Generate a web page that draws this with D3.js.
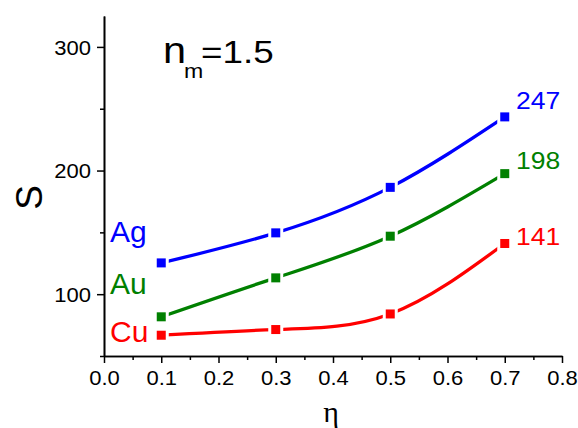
<!DOCTYPE html>
<html>
<head>
<meta charset="utf-8">
<script src="https://cdn.jsdelivr.net/npm/d3@7"></script>
<style>
  html, body { margin: 0; padding: 0; background: #fff; }
  svg { display: block; }
  text { font-family: "Liberation Sans", Arial, sans-serif; }
</style>
</head>
<body>
<svg id="chart" width="578" height="428"></svg>
<script>
// ---- data ----
const eta = [0.1, 0.3, 0.5, 0.7];
const seriesNames = ["Ag", "Au", "Cu"];
const agValues = [125.3, 149.6, 186.4, 243.4];
const auValues = [81.7, 113.2, 146.9, 197.5];
const cuValues = [66.8, 71.4, 84.0, 141.0];
const endLabels = ["247", "198", "141"];
const xTicks = [0.0, 0.1, 0.2, 0.3, 0.4, 0.5, 0.6, 0.7, 0.8];
const yTicks = [100, 200, 300];

const colors = ["#0000ff", "#008000", "#ff0000"];
const allValues = [agValues, auValues, cuValues];

const svg = d3.select("#chart");
const x = d3.scaleLinear().domain([0, 0.8]).range([104, 562]);
const y = d3.scaleLinear().domain([50, 325]).range([356, 16]);

function stretch(sel, k) {
  sel.each(function () {
    const L = this.getComputedTextLength();
    d3.select(this).attr("textLength", L * k).attr("lengthAdjust", "spacingAndGlyphs");
  });
}

// axes
const xAxis = d3.axisBottom(x).tickValues(xTicks).tickFormat(d3.format(".1f")).tickSize(7).tickSizeOuter(0);
const xMinor = d3.axisBottom(x).tickValues(d3.range(0.05, 0.8, 0.1)).tickFormat("").tickSize(4).tickSizeOuter(0);
const yAxis = d3.axisLeft(y).tickValues(yTicks).tickFormat(d3.format("d")).tickSize(7).tickSizeOuter(0);
const yMinor = d3.axisLeft(y).tickValues([50, 150, 250]).tickFormat("").tickSize(4).tickSizeOuter(0);

function styleAxis(g) {
  g.selectAll("path").attr("stroke", "#000").attr("stroke-width", 1.6);
  g.selectAll("line").attr("stroke", "#000").attr("stroke-width", 1.5);
  g.selectAll("text").attr("fill", "#000").style("font-size", "20px")
    .style("font-family", '"Liberation Sans", Arial, sans-serif');
}

const gx = svg.append("g").attr("transform", "translate(0,356)").call(xAxis).call(styleAxis);
gx.selectAll("text").attr("dy", null).attr("y", 29).call(stretch, 1.1);
svg.append("g").attr("transform", "translate(0,356)").call(xMinor).call(styleAxis);
const gy = svg.append("g").attr("transform", "translate(104,0)").call(yAxis).call(styleAxis);
gy.selectAll("text").attr("x", -13).attr("dy", "0.36em").call(stretch, 1.1);
svg.append("g").attr("transform", "translate(104,0)").call(yMinor).call(styleAxis);

// lines
const line = d3.line().x(d => x(d[0])).y(d => y(d[1])).curve(d3.curveNatural);
allValues.forEach((vals, i) => {
  const pts = eta.map((e, j) => [e, vals[j]]);
  svg.append("path").datum(pts).attr("d", line)
    .attr("fill", "none").attr("stroke", colors[i]).attr("stroke-width", 3.3)
    .attr("stroke-linecap", "round");
});
// markers with white halo (gap)
allValues.forEach((vals, i) => {
  const pts = eta.map((e, j) => [e, vals[j]]);
  svg.append("g").selectAll("rect.halo").data(pts).join("rect")
    .attr("x", d => x(d[0]) - 7.5).attr("y", d => y(d[1]) - 7.5)
    .attr("width", 15).attr("height", 15).attr("fill", "#fff");
  svg.append("g").selectAll("rect.m").data(pts).join("rect")
    .attr("x", d => x(d[0]) - 4.5).attr("y", d => y(d[1]) - 4.5)
    .attr("width", 9).attr("height", 9).attr("fill", colors[i]);
});

// series labels
const nameY = [241.5, 293.5, 341.7];
seriesNames.forEach((n, i) => {
  svg.append("text").attr("x", 110).attr("y", nameY[i]).attr("fill", colors[i])
    .style("font-size", "30px").text(n);
});
// end value labels
const endY = [108.5, 168.5, 245];
endLabels.forEach((t, i) => {
  svg.append("text").attr("x", 516).attr("y", endY[i]).attr("fill", colors[i])
    .style("font-size", "23px").text(t).call(stretch, 1.15);
});

// n_m = 1.5
svg.append("text").attr("x", 163).attr("y", 63.3).attr("fill", "#000")
  .style("font-size", "36px").text("n").call(stretch, 1.15);
svg.append("text").attr("x", 184).attr("y", 78.3).attr("fill", "#000")
  .style("font-size", "21px").text("m").call(stretch, 1.1);
svg.append("text").attr("x", 201).attr("y", 63.3).attr("fill", "#000")
  .style("font-size", "32px").text("=1.5").call(stretch, 1.15);

// axis titles
const sl = svg.append("text").attr("transform", "translate(42,197.5) rotate(-90)")
  .attr("text-anchor", "middle").attr("fill", "#000").style("font-size", "37px").text("S");
svg.append("text").attr("x", 331).attr("y", 421.5).attr("text-anchor", "middle")
  .attr("fill", "#000").style("font-family", '"Liberation Serif", "DejaVu Serif", serif')
  .style("font-size", "30px").text("η");
</script>
</body>
</html>
